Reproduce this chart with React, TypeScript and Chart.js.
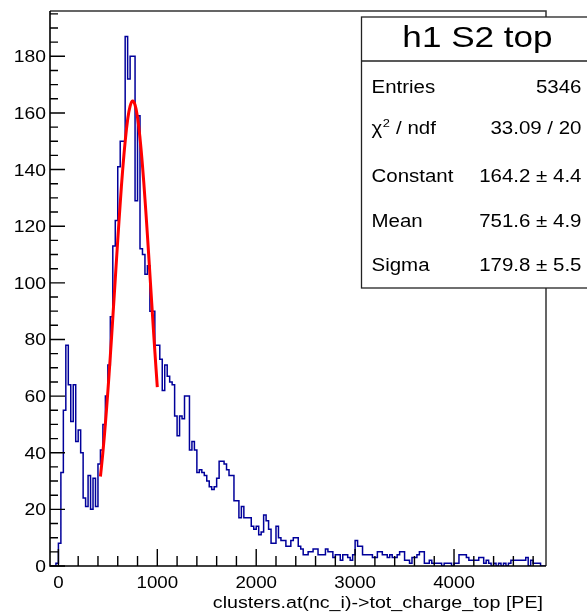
import React, { useEffect, useRef } from "react";
import { Chart, registerables } from "chart.js";

Chart.register(...registerables);

// ---------- data ----------
const binLow = -75;
const binWidth = 25;
const binCounts = [
  0, 0, 0,
  1, 8, 33, 55, 78, 64, 51, 64, 44, 48, 40, 24, 21, 32, 20, 31, 21,
  36, 41, 50, 60, 71, 88, 113, 122, 141, 150, 150, 187, 172, 180, 180, 129, 159, 112, 110, 103, 106, 90, 90,
  78, 78, 73, 62, 71, 67, 65, 64, 53, 46, 53, 52, 60, 60,
  41, 44, 41, 33, 34, 33, 32, 30, 28, 27, 28, 31, 37, 37, 36, 34, 32, 32, 23, 23,
  17, 21, 17, 17, 17, 14, 13, 14, 11, 12, 18, 16, 13, 8, 8, 14, 10, 9, 9, 7, 7, 9, 10, 10, 7, 6,
  4, 4, 5, 5, 6, 6, 4, 4, 4, 6, 5, 5, 3, 4, 4, 2, 4, 4, 3, 2,
  4, 9, 7, 7, 4, 4, 4, 4, 3, 3, 5, 5, 4, 4, 3, 4, 3, 3, 4, 5,
  5, 2, 2, 1, 3, 3, 4, 5, 5, 1, 1, 2, 1, 1, 1, 1, 0, 1, 1, 1,
  0, 1, 1, 4, 4, 4, 3, 2, 2, 2, 2, 3, 3, 1, 2, 1, 0, 1, 0, 1,
  0, 1, 0, 1, 2, 2, 2, 2, 2, 2, 3, 0, 2, 1, 1, 1, 0,
];

const fitX = [425, 450, 475, 500, 525, 550, 575, 600, 625, 650, 675, 700, 725, 750, 775, 800, 825, 850, 875, 900, 925, 950, 975, 1000];
const fitY = [31.6, 40.2, 50.3, 61.7, 74.2, 87.6, 101.4, 115.1, 128.1, 140.0, 149.9, 157.6, 162.4, 164.2, 162.8, 158.4, 151.1, 141.4, 129.7, 116.8, 103.1, 89.3, 75.9, 63.2];

const xMin = -85;
const xMax = 4930;
const yMin = 0;
const yMax = 196;

const xMajorTicks = [0, 1000, 2000, 3000, 4000];
const xTickLabels = ["0", "1000", "2000", "3000", "4000"];
const xMinorStep = 200;
const yMajorTicks = [0, 20, 40, 60, 80, 100, 120, 140, 160, 180];
const yTickLabels = ["0", "20", "40", "60", "80", "100", "120", "140", "160", "180"];
const yMinorStep = 5;

const xTitle = "clusters.at(nc_i)->tot_charge_top [PE]";
const statsTitle = "h1 S2 top";
const statsLabels = ["Entries", "χ2 / ndf", "Constant", "Mean", "Sigma"];
const statsValues = ["5346", "33.09 / 20", "164.2 ± 4.4", "751.6 ± 4.9", "179.8 ± 5.5"];

// ---------- drawing helpers ----------
const SX = 1.17;
const FONT = '"Liberation Sans", Arial, Helvetica, sans-serif';

function drawText(ctx: CanvasRenderingContext2D, s: string, x: number, y: number, size: number, align: CanvasTextAlign): number {
  ctx.save();
  ctx.translate(x, y);
  ctx.scale(SX, 1);
  ctx.font = `${size}px ${FONT}`;
  ctx.textAlign = align;
  ctx.textBaseline = "alphabetic";
  ctx.fillStyle = "#000";
  ctx.fillText(s, 0, 0);
  const w = ctx.measureText(s).width * SX;
  ctx.restore();
  return w;
}

const rootFrame = {
  id: "rootFrame",
  afterDraw(chart: any) {
    const ctx: CanvasRenderingContext2D = chart.ctx;
    const { left, right, top, bottom } = chart.chartArea;
    const xs = chart.scales.x;
    const ys = chart.scales.y;
    ctx.save();

    // frame
    ctx.strokeStyle = "#333";
    ctx.lineWidth = 1.5;
    ctx.beginPath();
    ctx.moveTo(left, top);
    ctx.lineTo(right, top);
    ctx.lineTo(right, bottom);
    ctx.stroke();

    // axes lines
    ctx.strokeStyle = "#000";
    ctx.lineWidth = 1.6;
    ctx.beginPath();
    ctx.moveTo(left, top);
    ctx.lineTo(left, bottom);
    ctx.lineTo(right, bottom);
    ctx.stroke();

    // y ticks
    ctx.lineWidth = 1.4;
    ctx.beginPath();
    for (let v = yMin; v <= yMax; v += yMinorStep) {
      const py = ys.getPixelForValue(v);
      const major = v % 20 === 0;
      ctx.moveTo(left, py);
      ctx.lineTo(left + (major ? 15 : 8), py);
    }
    // x ticks
    for (let v = 0; v <= xMax; v += xMinorStep) {
      const px = xs.getPixelForValue(v);
      const major = v % 1000 === 0;
      ctx.moveTo(px, bottom);
      ctx.lineTo(px, bottom - (major ? 17 : 10));
    }
    ctx.stroke();

    // tick labels
    yMajorTicks.forEach((v, i) => {
      const py = ys.getPixelForValue(v);
      drawText(ctx, yTickLabels[i], 46, py + 6, 16.5, "right");
    });
    xMajorTicks.forEach((v, i) => {
      const px = xs.getPixelForValue(v);
      drawText(ctx, xTickLabels[i], px, 588, 16, "center");
    });

    // axis title
    drawText(ctx, xTitle, right - 3, 608, 16.8, "right");

    // stats box
    const bx = 361.5, by = 17, bw = 240, bh = 271;
    ctx.fillStyle = "#fff";
    ctx.fillRect(bx, by, bw, bh);
    ctx.strokeStyle = "#222";
    ctx.lineWidth = 1.3;
    ctx.strokeRect(bx, by, bw, bh);
    ctx.beginPath();
    ctx.moveTo(bx, 61);
    ctx.lineTo(bx + bw, 61);
    ctx.stroke();

    drawText(ctx, statsTitle, 477.5, 47, 30, "center");

    const baselines = [93, 133.5, 181.5, 227, 271];
    const lx = 371.5;
    const rx = 581.5;
    statsLabels.forEach((lab, i) => {
      const yb = baselines[i];
      if (lab.startsWith("χ2")) {
        const w1 = drawText(ctx, "χ", lx, yb, 17.5, "left");
        const w2 = drawText(ctx, "2", lx + w1 + 0.5, yb - 7, 11, "left");
        drawText(ctx, lab.slice(2), lx + w1 + w2 + 1, yb, 17.5, "left");
      } else {
        drawText(ctx, lab, lx, yb, 17.5, "left");
      }
      drawText(ctx, statsValues[i], rx, yb, 17.5, "right");
    });

    ctx.restore();
  },
};

export default function App() {
  const ref = useRef<HTMLCanvasElement | null>(null);

  useEffect(() => {
    document.body.style.margin = "0";
    const canvas = ref.current;
    if (!canvas) return;

    const histPoints = binCounts.map((v, i) => ({ x: binLow + i * binWidth, y: v }));
    histPoints.push({ x: binLow + binCounts.length * binWidth, y: binCounts[binCounts.length - 1] });
    const fitPoints = fitX.map((x, i) => ({ x, y: fitY[i] }));

    const chart = new Chart(canvas, {
      type: "line",
      data: {
        datasets: [
          {
            label: "fit",
            data: fitPoints,
            borderColor: "#ff0000",
            borderWidth: 3,
            pointRadius: 0,
            fill: false,
            tension: 0.4,
          },
          {
            label: "h1 S2 top",
            data: histPoints,
            borderColor: "#00009a",
            borderWidth: 1.5,
            pointRadius: 0,
            fill: false,
            stepped: "after",
          },
        ],
      },
      options: {
        responsive: false,
        animation: false,
        events: [],
        layout: { padding: { left: 50, right: 41, top: 11, bottom: 48 } },
        scales: {
          x: { type: "linear", min: xMin, max: xMax, display: false },
          y: { type: "linear", min: yMin, max: yMax, display: false },
        },
        plugins: { legend: { display: false }, tooltip: { enabled: false } },
      },
      plugins: [rootFrame],
    });
    return () => chart.destroy();
  }, []);

  return (
    <div style={{ width: 587, height: 614, background: "#fff" }}>
      <canvas ref={ref} width={587} height={614} style={{ display: "block" }} />
    </div>
  );
}
